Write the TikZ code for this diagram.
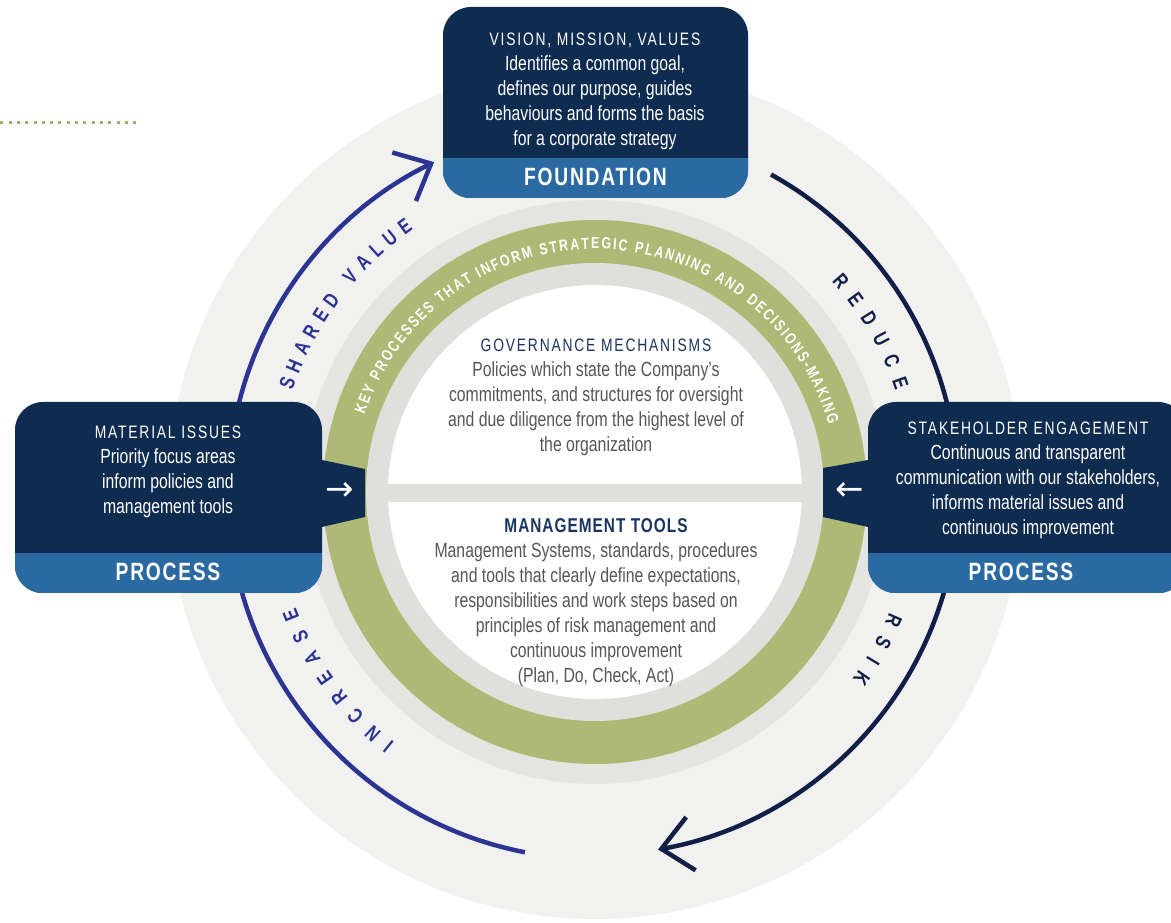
\documentclass[tikz,border=0pt]{standalone}
\usepackage{fontspec}
\setmainfont{Liberation Sans}[FakeStretch=0.77]
\newfontfamily\arrowfont{DejaVu Sans}
\usetikzlibrary{arrows.meta,decorations.text}

\definecolor{navy}{HTML}{0E2B50}
\definecolor{bandblue}{HTML}{2A6AA0}
\definecolor{ringgreen}{HTML}{ADB974}
\definecolor{bgouter}{HTML}{F1F1EF}
\definecolor{bgband}{HTML}{E4E5E1}
\definecolor{bginner}{HTML}{DFE0DB}
\definecolor{arcblue}{HTML}{2B3491}
\definecolor{arcnavy}{HTML}{101E48}
\definecolor{graytxt}{HTML}{55565A}
\definecolor{midnavy}{HTML}{1A3460}
\definecolor{dotgreen}{HTML}{A6AE6E}

\newcommand\hdfont{\fontsize{18}{25}\selectfont\addfontfeatures{LetterSpace=10}}
\newcommand\tagfont{\bfseries\fontsize{25}{25}\selectfont\addfontfeatures{LetterSpace=7}}
\newcommand\arcfont{\bfseries\fontsize{21}{21}\selectfont}
\newcommand\keyfont{\bfseries\fontsize{16}{16}\selectfont}

\begin{document}
\begin{tikzpicture}[x=1pt,y=1pt]
    \clip (0,0) rectangle (1171,922);

    \tikzstyle{box}=[fill=navy,rounded corners=28pt,minimum height=191pt,inner sep=0pt]
    \tikzstyle{boxtxt}=[text=white,align=center,font=\fontsize{20.5}{25}\selectfont]
    \tikzstyle{tag}=[text=white,font=\tagfont]
    \tikzstyle{midtxt}=[text=graytxt,align=center,font=\fontsize{20.5}{25}\selectfont]
    \tikzstyle{tab}=[fill=navy]
    \tikzstyle{pointer}=[text=white,font=\arrowfont\fontsize{34}{34}\selectfont]
    \tikzstyle{arctxt}=[decorate,decoration={text along path,text align={fit to path}}]

    \coordinate (c) at (595,430);

    % rings
    \fill[bgouter] (c) circle (427);
    \fill[bgband] (c) circle (292);
    \fill[ringgreen] (c) circle (272);
    \fill[bginner] (c) circle (229);
    \begin{scope}
        \clip (c) circle (207);
        \fill[white] (0,438) rectangle (1171,922);
        \fill[white] (0,0) rectangle (1171,420);
    \end{scope}

    % dotted rule
    \foreach \i in {0,...,16}
        \fill[dotgreen] (0.3+8.3*\i,797.5) rectangle ++(3,3);

    % arcs
    \coordinate (svstart) at ([shift={(259:367)}]c);
    \coordinate (rdstart) at ([shift={(61:363)}]c);
    \draw[arcblue,line width=4.5pt,-{Straight Barb[length=30pt,width=54pt]}]
        (svstart) arc[start angle=259,end angle=116,radius=367];
    \draw[arcnavy,line width=4.5pt,-{Straight Barb[length=30pt,width=54pt]}]
        (rdstart) arc[start angle=61,end angle=-80,radius=363];

    % texts on arcs
    \path[arctxt,decoration={text color=white,text={|\keyfont|KEY PROCESSES THAT INFORM STRATEGIC PLANNING AND DECISIONS-MAKING}}]
        ([shift={(161.5:243)}]c) arc[start angle=161.5,end angle=16,radius=243];
    \path[arctxt,decoration={text color=arcblue,text={|\arcfont|SHARED VALUE}}]
        ([shift={(161.5:319)}]c) arc[start angle=161.5,end angle=124.7,radius=319];
    \path[arctxt,decoration={text color=arcblue,text={|\arcfont|INCREASE}}]
        ([shift={(231.4:321)}]c) arc[start angle=231.4,end angle=201.1,radius=321];
    \path[arctxt,decoration={text color=arcnavy,text={|\arcfont|REDUCE}}]
        ([shift={(41.7:317)}]c) arc[start angle=41.7,end angle=18.6,radius=317];
    \path[arctxt,decoration={text color=arcnavy,text={|\arcfont|RSIK}}]
        ([shift={(337.7:318)}]c) arc[start angle=337.7,end angle=324,radius=318];

    % tabs into the ring
    \fill[tab] (322,462) -- (365,453) -- (365,405) -- (322,395) -- cycle;
    \fill[tab] (868,462) -- (823,454) -- (823,405) -- (868,395) -- cycle;
    \node[pointer] (inL) at (340,430) {→};
    \node[pointer] (inR) at (850,430) {←};

    % boxes
    \node[box,minimum width=305pt] (vision) at (595.5,819.5) {};
    \node[box,minimum width=307pt] (matbox) at (168.5,424.5) {};
    \node[box,minimum width=318pt] (stakebox) at (1027,424.5) {};
    \foreach \b in {vision,matbox,stakebox} {
        \begin{scope}
            \clip[rounded corners=28pt] (\b.south west) rectangle (\b.north east);
            \fill[bandblue] (\b.south west) rectangle ([yshift=40pt]\b.south east);
        \end{scope}
    }

    \node[boxtxt] (visiontxt) at (595,831) {{\hdfont VISION, MISSION, VALUES}\\
        Identifies a common goal,\\ defines our purpose, guides\\
        behaviours and forms the basis\\ for a corporate strategy};
    \node[tag] (foundation) at (595.5,745) {FOUNDATION};

    \node[boxtxt] (mattxt) at (168,450.3) {{\hdfont MATERIAL ISSUES}\\
        Priority focus areas\\ inform policies and\\ management tools};
    \node[tag] (processL) at (168,350) {PROCESS};

    \node[boxtxt] (staketxt) at (1028,441.8) {{\hdfont STAKEHOLDER ENGAGEMENT}\\
        Continuous and transparent\\ communication with our stakeholders,\\
        informs material issues and\\ continuous improvement};
    \node[tag] (processR) at (1021,350) {PROCESS};

    % centre texts
    \node[midtxt] (govtxt) at (596,524.8) {{\hdfont\color{midnavy}GOVERNANCE MECHANISMS}\\
        Policies which state the Company's\\ commitments, and structures for oversight\\
        and due diligence from the highest level of\\ the organization};
    \node[midtxt] (mgmttxt) at (596,319) {{\bfseries\fontsize{20}{25}\selectfont\addfontfeatures{LetterSpace=5}\color{midnavy}MANAGEMENT TOOLS}\\
        Management Systems, standards, procedures\\ and tools that clearly define expectations,\\
        responsibilities and work steps based on\\ principles of risk management and\\
        continuous improvement\\ (Plan, Do, Check, Act)};

\end{tikzpicture}
\end{document}
